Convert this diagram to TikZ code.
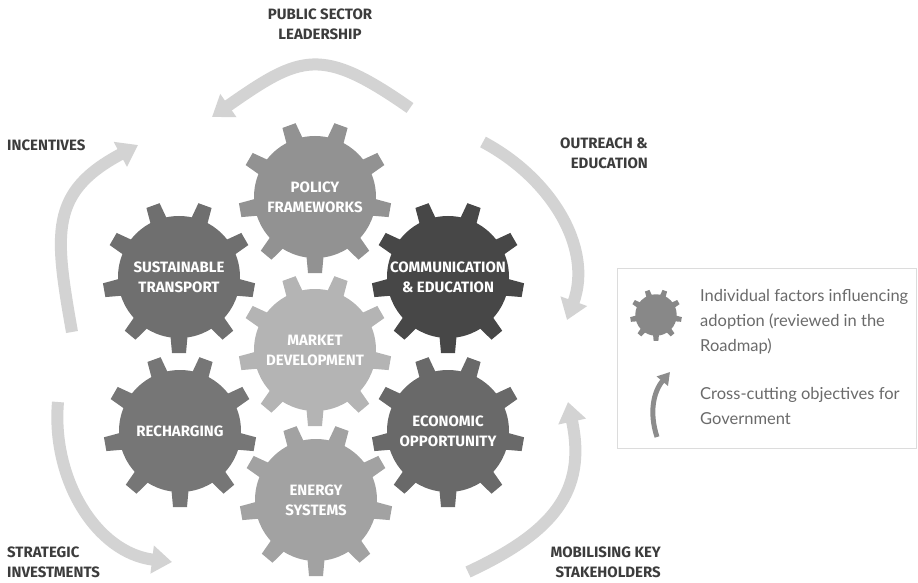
\documentclass[tikz,border=0pt]{standalone}
\usepackage{fontspec}
\setmainfont{Lato}
\newfontfamily\capsfont{Fira Sans}
\usepackage{tikz}
\usetikzlibrary{arrows.meta}
\definecolor{cross}{HTML}{D3D3D3}
\definecolor{keyarrow}{HTML}{8C8C8C}
\definecolor{keybox}{HTML}{DCDCDC}
\definecolor{labtxt}{HTML}{3C3C3C}
\definecolor{keytxt}{HTML}{6A6A6A}
\definecolor{cpolicy}{HTML}{929292}
\definecolor{ctransport}{HTML}{6F6F6F}
\definecolor{ccomm}{HTML}{474747}
\definecolor{cmarket}{HTML}{B4B4B4}
\definecolor{crecharge}{HTML}{767676}
\definecolor{cecon}{HTML}{696969}
\definecolor{cenergy}{HTML}{A2A2A2}
\definecolor{ckey}{HTML}{888888}
\tikzset{
  gear/.pic={
    \fill (0,0) circle (61);
    \foreach \a in {30,70,...,350}
      \fill[rotate=\a] (54,-9) -- (76,-7) -- (76,7) -- (54,9) -- cycle;
  },
  gearlab/.style={text=white, font=\capsfont\bfseries\fontsize{15}{20}\selectfont, align=center, inner sep=0pt},
  outlab/.style={text=labtxt, font=\capsfont\bfseries\fontsize{15}{20}\selectfont, inner sep=0pt},
  obj/.style={draw=cross, line width=12pt, -{Triangle[width=27pt,length=20pt]}},
  keytext/.style={text=keytxt, font=\fontsize{16.5}{25}\selectfont, align=left, inner sep=0pt, anchor=west},
}

\begin{document}
\begin{tikzpicture}[x=1pt,y=1pt]
  \useasboundingbox (0,0) rectangle (918,582);

  % gears
  \pic[fill=cpolicy]    at (315,385) {gear};
  \pic[fill=ctransport] at (179,305) {gear};
  \pic[fill=ccomm]      at (448,305) {gear};
  \pic[fill=cmarket]    at (315,232) {gear};
  \pic[fill=crecharge]  at (180,151) {gear};
  \pic[fill=cecon]      at (448,151) {gear};
  \pic[fill=cenergy]    at (316,82)  {gear};

  \node[gearlab] (policy)    at (315,385) {POLICY\\FRAMEWORKS};
  \node[gearlab] (transport) at (179,305) {SUSTAINABLE\\TRANSPORT};
  \node[gearlab] (comm)      at (448,305) {COMMUNICATION\\\& EDUCATION};
  \node[gearlab] (market)    at (315,232) {MARKET\\DEVELOPMENT};
  \node[gearlab] (recharge)  at (180,151) {RECHARGING};
  \node[gearlab] (econ)      at (448,151) {ECONOMIC\\OPPORTUNITY};
  \node[gearlab] (energy)    at (316,82)  {ENERGY\\SYSTEMS};

  % cross-cutting objectives
  \coordinate (lead-s) at (410,474);  \coordinate (lead-e) at (212,465);
  \coordinate (inc-s)  at (72,250);   \coordinate (inc-e)  at (138,437);
  \coordinate (inv-s)  at (58,180);   \coordinate (inv-e)  at (172,20);
  \coordinate (mob-s)  at (468,10);   \coordinate (mob-e)  at (568,180);
  \coordinate (out-s)  at (483,440);  \coordinate (out-e)  at (567,262);

  \draw[obj] (lead-s) to[out=145,in=35,looseness=1.4] (lead-e);
  \draw[obj] (inc-s) to[out=100,in=208,looseness=1.3] (inc-e);
  \draw[obj] (inv-s) to[out=-95,in=173] (inv-e);
  \draw[obj] (mob-s) to[out=25,in=-78,looseness=1.2] (mob-e);
  \draw[obj] (out-s) to[out=-28,in=70] (out-e);

  \node[outlab, align=center] (lead) at (320,558) {PUBLIC SECTOR\\LEADERSHIP};
  \node[outlab, anchor=west] (inc) at (7,437) {INCENTIVES};
  \node[outlab, anchor=east, align=right] (out) at (648,429) {OUTREACH \&\\EDUCATION};
  \node[outlab, anchor=west, align=left] (inv) at (7,20) {STRATEGIC\\INVESTMENTS};
  \node[outlab, anchor=east, align=right] (mob) at (661,20) {MOBILISING KEY\\STAKEHOLDERS};

  % key
  \draw[keybox, line width=0.8pt] (617,134) rectangle (916,314);
  \pic[fill=ckey, scale=0.34] at (656,267) {gear};
  \coordinate (key-s) at (657,145);
  \coordinate (key-e) at (670,210);
  \draw[draw=keyarrow, line width=5pt, -{Triangle[width=14pt,length=12pt]}]
    (key-s) to[out=108,in=230] (key-e);
  \node[keytext] (keygear) at (700,260) {Individual factors influencing\\adoption (reviewed in the\\Roadmap)};
  \node[keytext] (keyobj) at (700,176) {Cross-cutting objectives for\\Government};
\end{tikzpicture}
\end{document}
